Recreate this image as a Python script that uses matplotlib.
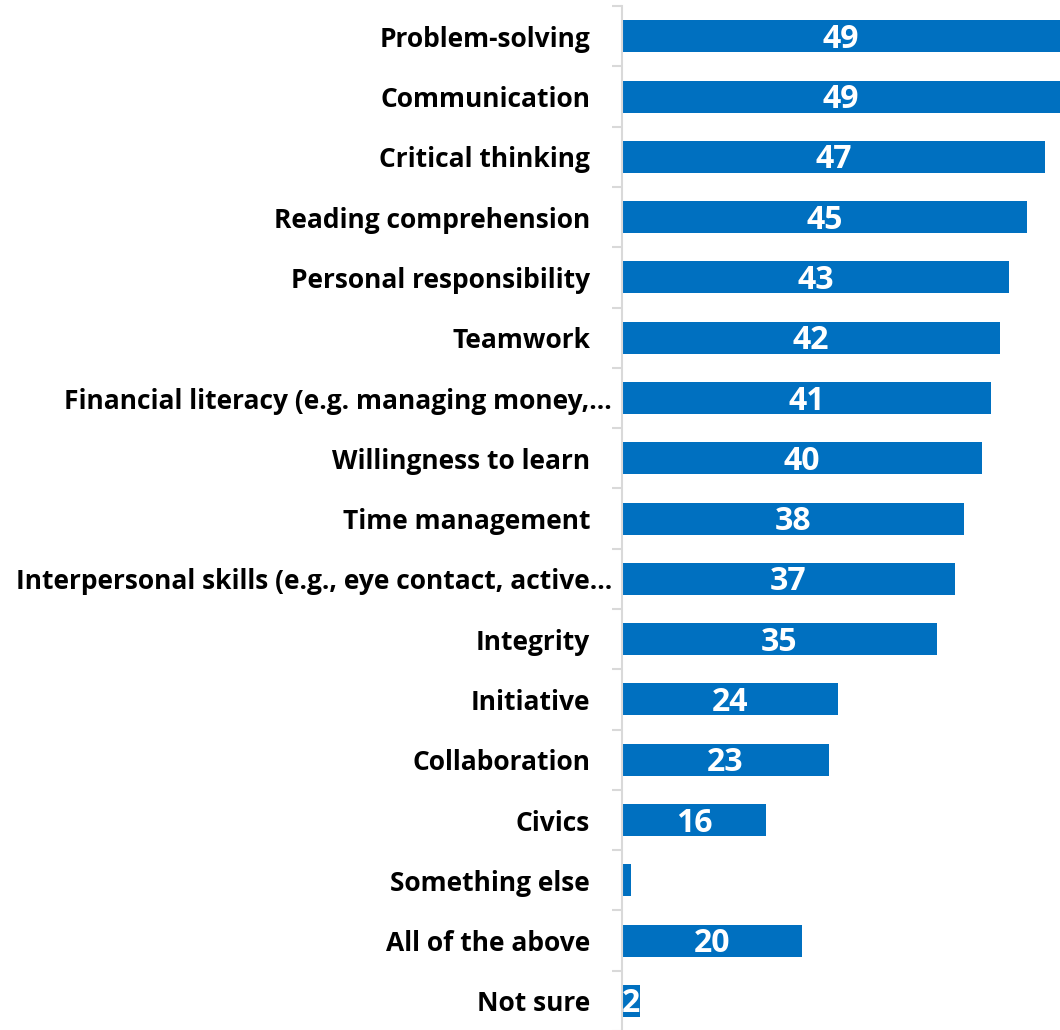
import matplotlib
matplotlib.use('Agg')

import matplotlib.pyplot as plt
import matplotlib.transforms as mtransforms
import numpy as np

categories = [
    "Problem-solving",
    "Communication",
    "Critical thinking",
    "Reading comprehension",
    "Personal responsibility",
    "Teamwork",
    "Financial literacy (e.g. managing money,\u2026",
    "Willingness to learn",
    "Time management",
    "Interpersonal skills (e.g., eye contact, active\u2026",
    "Integrity",
    "Initiative",
    "Collaboration",
    "Civics",
    "Something else",
    "All of the above",
    "Not sure",
]
values = [49, 49, 47, 45, 43, 42, 41, 40, 38, 37, 35, 24, 23, 16, 1, 20, 2]
# labels shown inside the bars (the tiny one is left blank)
shown = [True] * 14 + [False, True, True]

blue = "#0070c0"
grey = "#d9d9d9"
plt.rcParams['font.family'] = ['Open Sans', 'DejaVu Sans']

fig = plt.figure(figsize=(10.6, 10.3), dpi=100)
left = 622 / 1060
ax = fig.add_axes([left, -0.001, 1 - left, 0.995])

y = np.arange(len(categories))
ax.barh(y, values, height=0.53, color=blue)
ax.set_xlim(0, 48.67)
ax.set_ylim(len(categories) - 0.5, -0.5)

xmax = ax.get_xlim()[1]
for yi, v, s in zip(y, values, shown):
    if not s:
        continue
    cx = min(v, xmax) / 2
    ax.text(cx, yi + 0.05, str(v), ha='center', va='center',
            color='white', fontsize=23, fontweight='bold')

ax.set_yticks(y)
ax.set_yticklabels(categories, fontsize=19, fontweight='bold')
ax.set_yticks(np.arange(len(categories) + 1) - 0.5, minor=True)
ax.tick_params(axis='y', which='major', length=0, pad=23)
ax.tick_params(axis='y', which='minor', length=7, width=1.5, color=grey, direction='out')
ax.set_xticks([])

# truncated labels sit a little closer to the axis
shift = mtransforms.ScaledTranslation(22 / 100, 0, fig.dpi_scale_trans)
for lab in ax.get_yticklabels():
    if lab.get_text().endswith("\u2026"):
        lab.set_transform(lab.get_transform() + shift)

for side in ['top', 'right', 'bottom']:
    ax.spines[side].set_visible(False)
ax.spines['left'].set_color(grey)
ax.spines['left'].set_linewidth(1.5)

fig.savefig("out.png", dpi=100, facecolor='white')
